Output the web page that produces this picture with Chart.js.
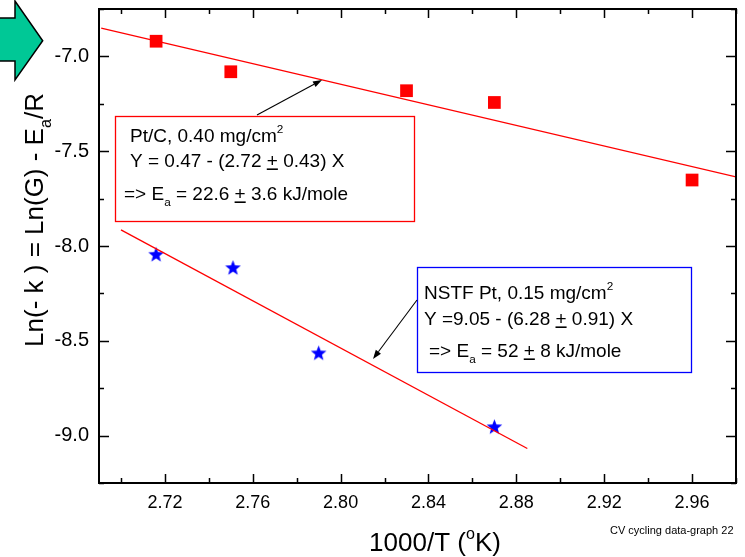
<!DOCTYPE html>
<html>
<head>
<meta charset="utf-8">
<script src="https://cdn.jsdelivr.net/npm/chart.js@4.4.1/dist/chart.umd.min.js"></script>
<style>
html,body{margin:0;padding:0;background:#fff;}
canvas{display:block;}
</style>
</head>
<body>
<canvas id="c" width="745" height="557"></canvas>
<script>
// ---- data ----
const ptcX = [2.716, 2.750, 2.830, 2.870, 2.960];
const ptcY = [-6.920, -7.081, -7.181, -7.243, -7.652];
const nstfX = [2.716, 2.751, 2.790, 2.870];
const nstfY = [-8.044, -8.114, -8.564, -8.953];
const ptcFitX = [2.691, 2.980];
const ptcFitY = [-6.851, -7.636];
const nstfFitX = [2.700, 2.885];
const nstfFitY = [-7.915, -9.068];
const xTicks = [2.72, 2.76, 2.80, 2.84, 2.88, 2.92, 2.96];
const xMinor = [2.70, 2.74, 2.78, 2.82, 2.86, 2.90, 2.94, 2.98];
const yTicks = [-9.0, -8.5, -8.0, -7.5, -7.0];
const yMinor = [-9.25, -8.75, -8.25, -7.75, -7.25, -6.75];

const FONT = '"Liberation Sans", Arial, Helvetica, sans-serif';

function zip(xs, ys){ return xs.map((x,i)=>({x:x, y:ys[i]})); }

// filled five-point star marker
function makeStar(size, color){
  const cv = document.createElement('canvas');
  cv.width = size; cv.height = size;
  const g = cv.getContext('2d');
  const cx = size/2, cy = size/2 + 0.6, R = size/2 - 0.3, r = R*0.42;
  g.beginPath();
  for (let i=0;i<10;i++){
    const ang = -Math.PI/2 + i*Math.PI/5;
    const rad = (i%2===0)?R:r;
    const px = cx + rad*Math.cos(ang), py = cy + rad*Math.sin(ang);
    if(i===0) g.moveTo(px,py); else g.lineTo(px,py);
  }
  g.closePath();
  g.fillStyle = color; g.fill();
  return cv;
}
const star = makeStar(17, '#0000FF');

// rich text helper
function drawRich(ctx, x, y, segs, size, color){
  ctx.fillStyle = color; ctx.strokeStyle = color;
  ctx.textBaseline = 'alphabetic'; ctx.textAlign = 'left';
  let cx = x;
  for (const s of segs){
    const small = s.sub || s.sup;
    const fs = small ? size*0.62 : size;
    ctx.font = fs + 'px ' + FONT;
    const dy = s.sub ? size*0.32 : (s.sup ? -size*0.45 : 0);
    ctx.fillText(s.t, cx, y+dy);
    const w = ctx.measureText(s.t).width;
    if (s.ul){
      ctx.save(); ctx.lineWidth = 1.6;
      ctx.beginPath(); ctx.moveTo(cx, y+2.2); ctx.lineTo(cx+w, y+2.2); ctx.stroke();
      ctx.restore();
    }
    cx += w;
  }
  return cx - x;
}
function richWidth(ctx, segs, size){
  let w = 0;
  for (const s of segs){
    const fs = (s.sub||s.sup) ? size*0.62 : size;
    ctx.font = fs + 'px ' + FONT;
    w += ctx.measureText(s.t).width;
  }
  return w;
}
function arrow(ctx, x1, y1, x2, y2){
  ctx.save();
  ctx.strokeStyle = '#000'; ctx.fillStyle = '#000'; ctx.lineWidth = 1.1;
  const a = Math.atan2(y2-y1, x2-x1), L = 9, W = 3.2;
  const bx = x2 - L*Math.cos(a), by = y2 - L*Math.sin(a);
  ctx.beginPath(); ctx.moveTo(x1,y1); ctx.lineTo(bx,by); ctx.stroke();
  ctx.beginPath();
  ctx.moveTo(x2,y2);
  ctx.lineTo(bx + W*Math.sin(a), by - W*Math.cos(a));
  ctx.lineTo(bx - W*Math.sin(a), by + W*Math.cos(a));
  ctx.closePath(); ctx.fill();
  ctx.restore();
}

const decor = {
  id: 'decor',
  beforeDraw(chart){
    const ctx = chart.ctx;
    ctx.save();
    ctx.fillStyle = '#fff';
    ctx.fillRect(0,0,chart.width,chart.height);
    ctx.restore();
  },
  afterDraw(chart){
    const ctx = chart.ctx, a = chart.chartArea;
    const xs = chart.scales.x, ys = chart.scales.y;
    ctx.save();
    // frame
    ctx.strokeStyle = '#000'; ctx.lineWidth = 2;
    ctx.strokeRect(a.left, a.top, a.right-a.left, a.bottom-a.top);
    // ticks (inward)
    ctx.lineWidth = 1.5;
    ctx.beginPath();
    const tick = (vals, len, axis) => {
      for (const v of vals){
        if (axis==='x'){
          const p = Math.round(xs.getPixelForValue(v))+0.5;
          ctx.moveTo(p, a.bottom); ctx.lineTo(p, a.bottom-len);
          ctx.moveTo(p, a.top); ctx.lineTo(p, a.top+len);
        } else {
          const p = Math.round(ys.getPixelForValue(v))+0.5;
          ctx.moveTo(a.left, p); ctx.lineTo(a.left+len, p);
          ctx.moveTo(a.right, p); ctx.lineTo(a.right-len, p);
        }
      }
    };
    tick(xTicks, 9, 'x'); tick(xMinor, 5, 'x');
    tick(yTicks, 10, 'y'); tick(yMinor, 5, 'y');
    ctx.stroke();

    // annotation boxes
    ctx.fillStyle = '#fff';
    ctx.lineWidth = 1.3;
    ctx.strokeStyle = '#FF0000';
    ctx.fillRect(115,116,299,106); ctx.strokeRect(115.5,116.5,299,105);
    ctx.strokeStyle = '#0000FF';
    ctx.fillRect(417,267,275,105); ctx.strokeRect(417.5,267.5,274,105);

    const fs = 19;
    drawRich(ctx, 130, 142, [{t:'Pt/C, 0.40 mg/cm'},{t:'2',sup:true}], fs, '#000');
    drawRich(ctx, 130, 167, [{t:'Y = 0.47 - (2.72 '},{t:'+',ul:true},{t:' 0.43) X'}], fs, '#000');
    drawRich(ctx, 124, 200, [{t:'=> E'},{t:'a',sub:true},{t:' = 22.6 '},{t:'+',ul:true},{t:' 3.6 kJ/mole'}], fs, '#000');

    drawRich(ctx, 424, 299, [{t:'NSTF Pt, 0.15 mg/cm'},{t:'2',sup:true}], fs, '#000');
    drawRich(ctx, 424, 325, [{t:'Y =9.05 - (6.28 '},{t:'+',ul:true},{t:' 0.91) X'}], fs, '#000');
    drawRich(ctx, 429, 357, [{t:'=> E'},{t:'a',sub:true},{t:' = 52 '},{t:'+',ul:true},{t:' 8 kJ/mole'}], fs, '#000');

    // arrows
    arrow(ctx, 257, 115, 322, 80);
    arrow(ctx, 417, 300, 373, 359);

    // axis titles
    const tfs = 26;
    const xt = [{t:'1000/T ('},{t:'o',sup:true},{t:'K)'}];
    const xw = richWidth(ctx, xt, tfs);
    drawRich(ctx, 435 - xw/2, 551, xt, tfs, '#000');

    const yt = [{t:'Ln(- k ) = Ln(G) - E'},{t:'a',sub:true},{t:'/R'}];
    const yw = richWidth(ctx, yt, tfs);
    ctx.save();
    ctx.translate(43, 220); ctx.rotate(-Math.PI/2);
    drawRich(ctx, -yw/2, 0, yt, tfs, '#000');
    ctx.restore();

    // footnote
    ctx.font = '11px ' + FONT; ctx.fillStyle = '#000';
    ctx.textAlign = 'left'; ctx.textBaseline = 'middle';
    ctx.fillText('CV cycling data-graph 22', 610, 531);

    // green block arrow
    ctx.beginPath();
    ctx.moveTo(-2,18); ctx.lineTo(15,18); ctx.lineTo(15,1);
    ctx.lineTo(42.7,40.7); ctx.lineTo(15,80); ctx.lineTo(15,61); ctx.lineTo(-2,61);
    ctx.closePath();
    ctx.fillStyle = '#00C896'; ctx.fill();
    ctx.strokeStyle = '#000'; ctx.lineWidth = 1.5; ctx.stroke();
    ctx.restore();
  }
};

new Chart(document.getElementById('c'), {
  type: 'scatter',
  data: {
    datasets: [
      { label:'Pt/C fit', data: zip(ptcFitX, ptcFitY), showLine:true, borderColor:'#FF0000', borderWidth:1.3, pointRadius:0, fill:false },
      { label:'NSTF fit', data: zip(nstfFitX, nstfFitY), showLine:true, borderColor:'#FF0000', borderWidth:1.3, pointRadius:0, fill:false },
      { label:'Pt/C', data: zip(ptcX, ptcY), pointStyle:'rect', pointRadius:9, backgroundColor:'#FF0000', borderColor:'#FF0000', borderWidth:0 },
      { label:'NSTF Pt', data: zip(nstfX, nstfY), pointStyle: star, pointRadius:8, backgroundColor:'#0000FF', borderColor:'#0000FF' }
    ]
  },
  options: {
    responsive: false,
    devicePixelRatio: 1,
    animation: false,
    layout: { padding: { top: 6, right: 4, left: 0, bottom: 0 } },
    plugins: { legend: { display:false }, tooltip: { enabled:false } },
    scales: {
      x: {
        type:'linear', min: 2.69, max: 2.98,
        grid: { display:false, drawTicks:false },
        border: { display:false },
        afterBuildTicks: s => { s.ticks = xTicks.map(v => ({value:v})); },
        afterFit: s => { s.height = 74; s.paddingLeft = 0; s.paddingRight = 0; s.paddingTop = 0; s.paddingBottom = 0; },
        ticks: { padding: 9, color:'#000', font:{ family: FONT, size: 18 }, maxRotation:0, autoSkip:false,
                 callback: v => Number(v).toFixed(2) }
      },
      y: {
        type:'linear', min: -9.25, max: -6.75,
        grid: { display:false, drawTicks:false },
        border: { display:false },
        afterBuildTicks: s => { s.ticks = yTicks.map(v => ({value:v})); },
        afterFit: s => { s.width = 99; s.paddingLeft = 0; s.paddingRight = 0; s.paddingTop = 0; s.paddingBottom = 0; },
        ticks: { padding: 10, color:'#000', font:{ family: FONT, size: 20 }, autoSkip:false,
                 callback: v => Number(v).toFixed(1) }
      }
    }
  },
  plugins: [decor]
});
</script>
</body>
</html>
